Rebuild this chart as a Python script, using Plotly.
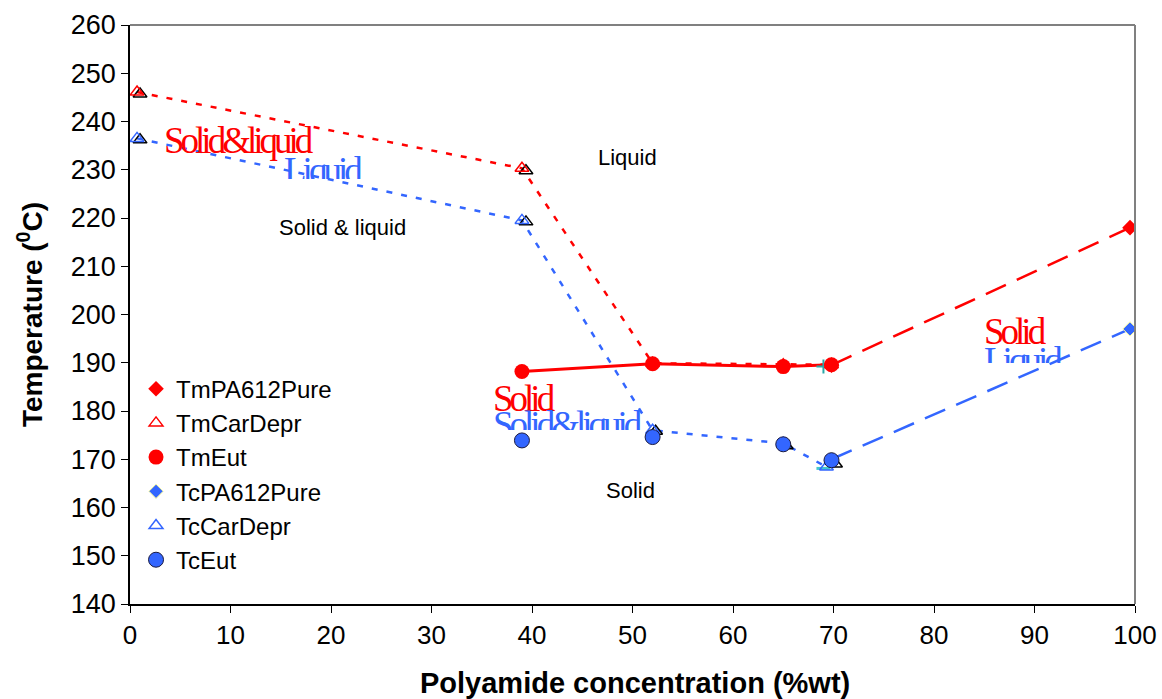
import plotly.graph_objects as go

# ---------------- data ----------------
tm_pure_x = [69.8, 99.5]
tm_pure_y = [189.5, 218.0]

tm_car_x = [0.7, 39.0, 52.0, 65.0, 69.8]
tm_car_y = [246.1, 230.3, 189.9, 189.6, 189.6]

tm_eut_x = [39.0, 52.0, 65.0, 69.8]
tm_eut_y = [188.2, 189.8, 189.2, 189.6]

tc_pure_x = [69.8, 99.5]
tc_pure_y = [170.0, 197.0]

tc_car_x = [0.7, 39.0, 52.0, 65.0, 69.3]
tc_car_y = [236.5, 219.5, 176.0, 173.3, 168.4]

tc_eut_x = [39.0, 52.0, 65.0, 69.8]
tc_eut_y = [173.9, 174.6, 173.1, 169.8]

# duplicate (black) triangles visible slightly offset
blk_x = [1.0, 1.0, 39.4, 39.4, 52.3, 65.3, 70.2]
blk_y = [245.7, 236.2, 229.8, 219.2, 175.8, 172.8, 169.0]

x_ticks = list(range(0, 101, 10))
y_ticks = list(range(140, 261, 10))

RED = "#ff0000"
BLUE = "#3366ff"

fig = go.Figure()

# connecting lines (no legend)
line_specs = [
    (tm_pure_x, tm_pure_y, RED, 2.5, "22px,12px"),
    (tm_car_x, tm_car_y, RED, 2.5, "6px,9px"),
    (tm_eut_x, tm_eut_y, RED, 3, "solid"),
    (tc_pure_x, tc_pure_y, BLUE, 2.5, "22px,12px"),
    (tc_car_x, tc_car_y, BLUE, 2.5, "6px,9px"),
]
for xs, ys, c, w, d in line_specs:
    fig.add_trace(go.Scatter(x=xs, y=ys, mode="lines", showlegend=False, hoverinfo="skip",
                             line=dict(color=c, width=w, dash=d)))

fig.add_trace(go.Scatter(x=blk_x, y=blk_y, mode="markers", showlegend=False,
                         marker=dict(symbol="triangle-up-open", size=12, color="black",
                                     line=dict(width=1.5, color="black")),
                         hoverinfo="skip"))
fig.add_trace(go.Scatter(x=[69.0], y=[189.2], mode="markers", showlegend=False,
                         marker=dict(symbol="cross-thin", size=10,
                                     line=dict(width=2, color="#2aa9a9")),
                         hoverinfo="skip"))
fig.add_trace(go.Scatter(x=[69.0], y=[168.1], mode="markers", showlegend=False,
                         marker=dict(symbol="line-ew", size=10,
                                     line=dict(width=3, color="#44c8d0")),
                         hoverinfo="skip"))

# marker traces (legend)
fig.add_trace(go.Scatter(name="TmPA612Pure", x=tm_pure_x, y=tm_pure_y, mode="markers",
                         marker=dict(symbol="diamond", size=12, color=RED)))
fig.add_trace(go.Scatter(name="TmCarDepr", x=tm_car_x, y=tm_car_y, mode="markers",
                         marker=dict(symbol="triangle-up-open", size=12, color=RED,
                                     line=dict(width=1.5, color=RED))))
fig.add_trace(go.Scatter(name="TmEut", x=tm_eut_x, y=tm_eut_y, mode="markers",
                         marker=dict(symbol="circle", size=15, color=RED)))
fig.add_trace(go.Scatter(name="TcPA612Pure", x=tc_pure_x, y=tc_pure_y, mode="markers",
                         marker=dict(symbol="diamond", size=11, color=BLUE,
                                     line=dict(width=1, color="#ffff99"))))
fig.add_trace(go.Scatter(name="TcCarDepr", x=tc_car_x, y=tc_car_y, mode="markers",
                         marker=dict(symbol="triangle-up-open", size=12, color=BLUE,
                                     line=dict(width=1.5, color=BLUE))))
fig.add_trace(go.Scatter(name="TcEut", x=tc_eut_x, y=tc_eut_y, mode="markers",
                         marker=dict(symbol="circle", size=15, color=BLUE,
                                     line=dict(width=1, color="#1a1a40"))))

# plain labels
for txt, x, y in [("Liquid", 49.5, 232.6), ("Solid & liquid", 21.1, 218.0), ("Solid", 49.8, 163.6)]:
    fig.add_annotation(text=txt, x=x, y=y, showarrow=False,
                       font=dict(family="Liberation Sans, Arial", size=22, color="black"))

# overlapping serif text boxes (some clipped)
def serif(txt, x, y, color, height=None):
    kw = dict(text='<span style="letter-spacing:-4px">%s</span>' % txt, x=x, y=y,
              xanchor="left", yanchor="top", showarrow=False, borderpad=0,
              valign="top", align="left",
              font=dict(family="Liberation Serif, Times New Roman", size=37, color=color))
    if height is not None:
        kw["height"] = height
    fig.add_annotation(**kw)

serif("Solid&amp;liquid", 3.3, 240.5, RED)
serif("Liquid", 15.2, 234.4, BLUE, height=29)
serif("Solid", 36.0, 187.0, RED)
serif("Solid&amp;liquid", 36.0, 181.6, BLUE, height=26)
serif("Solid", 84.9, 200.9, RED)
serif("Liquid", 84.9, 195.0, BLUE, height=23)

# axis titles as annotations (fixed positions)
fig.add_annotation(text="<b>Polyamide concentration (%wt)</b>", xref="paper", yref="paper",
                   x=0.5025, y=-0.1364, xanchor="center", yanchor="middle",
                   showarrow=False, font=dict(size=29))
fig.add_annotation(text="<b>Temperature (<sup>0</sup>C)</b>", xref="paper", yref="paper",
                   x=-0.0995, y=0.499, xanchor="center", yanchor="middle",
                   textangle=-90, showarrow=False, font=dict(size=28))

# gray frame top & right
fig.add_shape(type="line", xref="paper", yref="paper", x0=0, x1=1, y0=1, y1=1,
              line=dict(color="#808080", width=2))
fig.add_shape(type="line", xref="paper", yref="paper", x0=1, x1=1, y0=0, y1=1,
              line=dict(color="#808080", width=2))

fig.update_layout(
    width=1162, height=699,
    margin=dict(l=130, r=27, t=25, b=95),
    paper_bgcolor="white", plot_bgcolor="white",
    font=dict(family="Liberation Sans, Arial", color="black"),
    legend=dict(x=0.006, y=0.41, xanchor="left", yanchor="top",
                bgcolor="rgba(0,0,0,0)", font=dict(size=24),
                tracegroupgap=0),
    xaxis=dict(range=[0, 100], tickvals=x_ticks, showgrid=False, zeroline=False,
               showline=True, linecolor="black", linewidth=1.5,
               ticks="outside", ticklen=7, tickcolor="black",
               tickfont=dict(size=26), automargin=False),
    yaxis=dict(range=[140, 260], tickvals=y_ticks, showgrid=False, zeroline=False,
               showline=True, linecolor="black", linewidth=1.5,
               ticks="outside", ticklen=7, tickcolor="black",
               tickfont=dict(size=27), automargin=False),
)

fig.write_html("out.html")
